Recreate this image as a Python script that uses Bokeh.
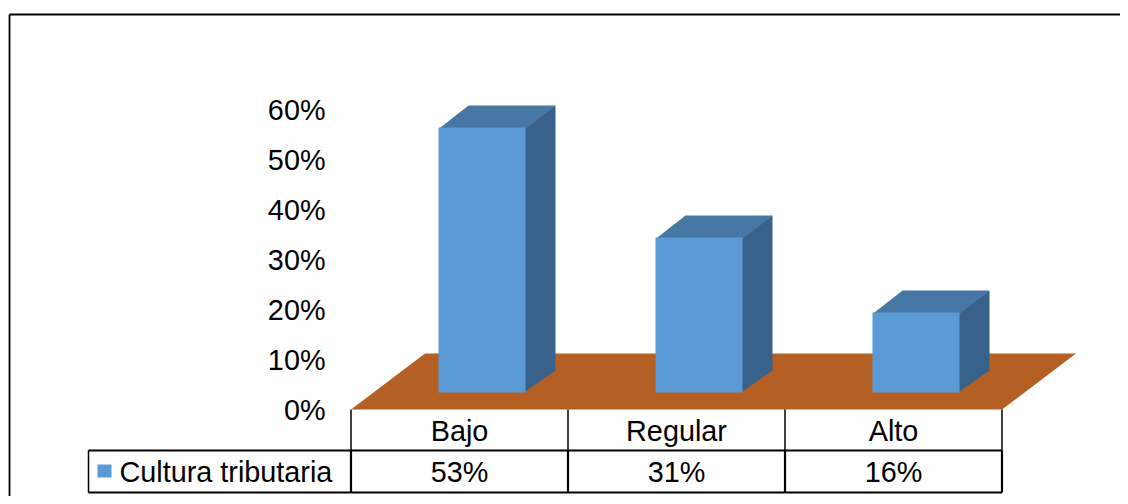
from bokeh.plotting import figure
from bokeh.models import Range1d
from bokeh.core.properties import value
from bokeh.embed import file_html
from bokeh.resources import INLINE

# ---- data ----
categories = ["Bajo", "Regular", "Alto"]
values = [53, 31, 16]
value_labels = ["53%", "31%", "16%"]
series_name = "Cultura tributaria"
ticks = [0, 10, 20, 30, 40, 50, 60]
tick_labels = ["0%", "10%", "20%", "30%", "40%", "50%", "60%"]

# ---- layout constants (px per unit) ----
W, H = 1120, 496
PX_X = 217.0      # pixels per category unit
PX_Y = 5.0        # pixels per percent
X0 = 459.0        # figure x of first category center
Y0 = H - 409.0    # figure y (from bottom) of 0%

FONT = value("Liberation Sans")
FS = "28.8px"

front_c = "#5B9BD5"
top_c = "#4677A5"
side_c = "#39628A"
floor_c = "#B45F24"

p = figure(width=W, height=H, output_backend="svg", toolbar_location=None,
           x_range=Range1d(-X0 / PX_X, (W - X0) / PX_X),
           y_range=Range1d(-Y0 / PX_Y, (H - Y0) / PX_Y),
           min_border=0)
p.axis.visible = False
p.grid.visible = False
p.outline_line_color = None
p.background_fill_color = "white"
p.border_fill_color = "white"

def ux(px):  # pixel offset -> x units
    return px / PX_X

def uy(px):  # pixel offset -> y units
    return px / PX_Y

n = len(categories)
xs = list(range(n))

# floor
fdx, fdy = ux(74), uy(56)
p.patch([-0.5, n - 0.5, n - 0.5 + fdx, -0.5 + fdx], [0, 0, fdy, fdy],
        fill_color=floor_c, line_color=None)

# bars
bw = ux(87)
sx, sy = ux(22.5), uy(17)
dx, dy = ux(30), uy(22)
ox, oy = ux(1.5), uy(1.5)   # small overlap to avoid seams
for c, v in zip(xs, values):
    L = c + sx - bw / 2
    R = c + sx + bw / 2
    T = sy + v
    p.patch([R - ox, R - ox, R + dx, R + dx], [sy, T, T + dy, sy + dy],
            fill_color=side_c, line_color=None)
    p.patch([L, R, R + dx, L + dx], [T - oy, T - oy, T + dy, T + dy],
            fill_color=top_c, line_color=None)
    p.quad(left=L, right=R, bottom=sy, top=T, fill_color=front_c, line_color=None)

# y tick labels
p.text(x=[ux(325 - X0)] * len(ticks), y=ticks, text=tick_labels,
       text_font=FONT, text_font_size=FS, text_align="right",
       text_baseline="middle", text_color="black")

# data table
r1_top, r1_bot = 0, -uy(41)
r2_bot = -uy(83)
leg_left = ux(88 - X0)
edges = [i - 0.5 for i in range(n + 1)]
# horizontal lines
p.segment(x0=[leg_left, leg_left], x1=[n - 0.5, n - 0.5], y0=[r1_bot, r2_bot],
          y1=[r1_bot, r2_bot], line_color="black", line_width=2)
# vertical lines row 1
p.segment(x0=edges, x1=edges, y0=[r1_top] * len(edges), y1=[r1_bot] * len(edges),
          line_color="black", line_width=1.5)
# vertical lines row 2
p.segment(x0=edges, x1=edges, y0=[r1_bot] * len(edges), y1=[r2_bot] * len(edges),
          line_color="black", line_width=2.2)
p.segment(x0=[leg_left], x1=[leg_left], y0=[r1_bot], y1=[r2_bot],
          line_color="black", line_width=1.5)

# category labels and values
p.text(x=xs, y=[-uy(21)] * n, text=categories, text_font=FONT, text_font_size=FS,
       text_align="center", text_baseline="middle", text_color="black")
p.text(x=xs, y=[-uy(62)] * n, text=value_labels, text_font=FONT, text_font_size=FS,
       text_align="center", text_baseline="middle", text_color="black")

# legend key
p.quad(left=ux(97 - X0), right=ux(111 - X0), bottom=-uy(68), top=-uy(55),
       fill_color=front_c, line_color=None)
p.text(x=[ux(119 - X0)], y=[-uy(62)], text=[series_name], text_font=FONT,
       text_font_size=FS, text_align="left", text_baseline="middle", text_color="black")

# outer frame (top and left edges)
fx = ux(9 - X0)
ft = uy(409 - 14)
p.segment(x0=[fx, fx], x1=[(W - X0) / PX_X, fx], y0=[ft, ft], y1=[ft, -Y0 / PX_Y],
          line_color="black", line_width=1.8)

open("out.html", "w").write(file_html(p, INLINE))
